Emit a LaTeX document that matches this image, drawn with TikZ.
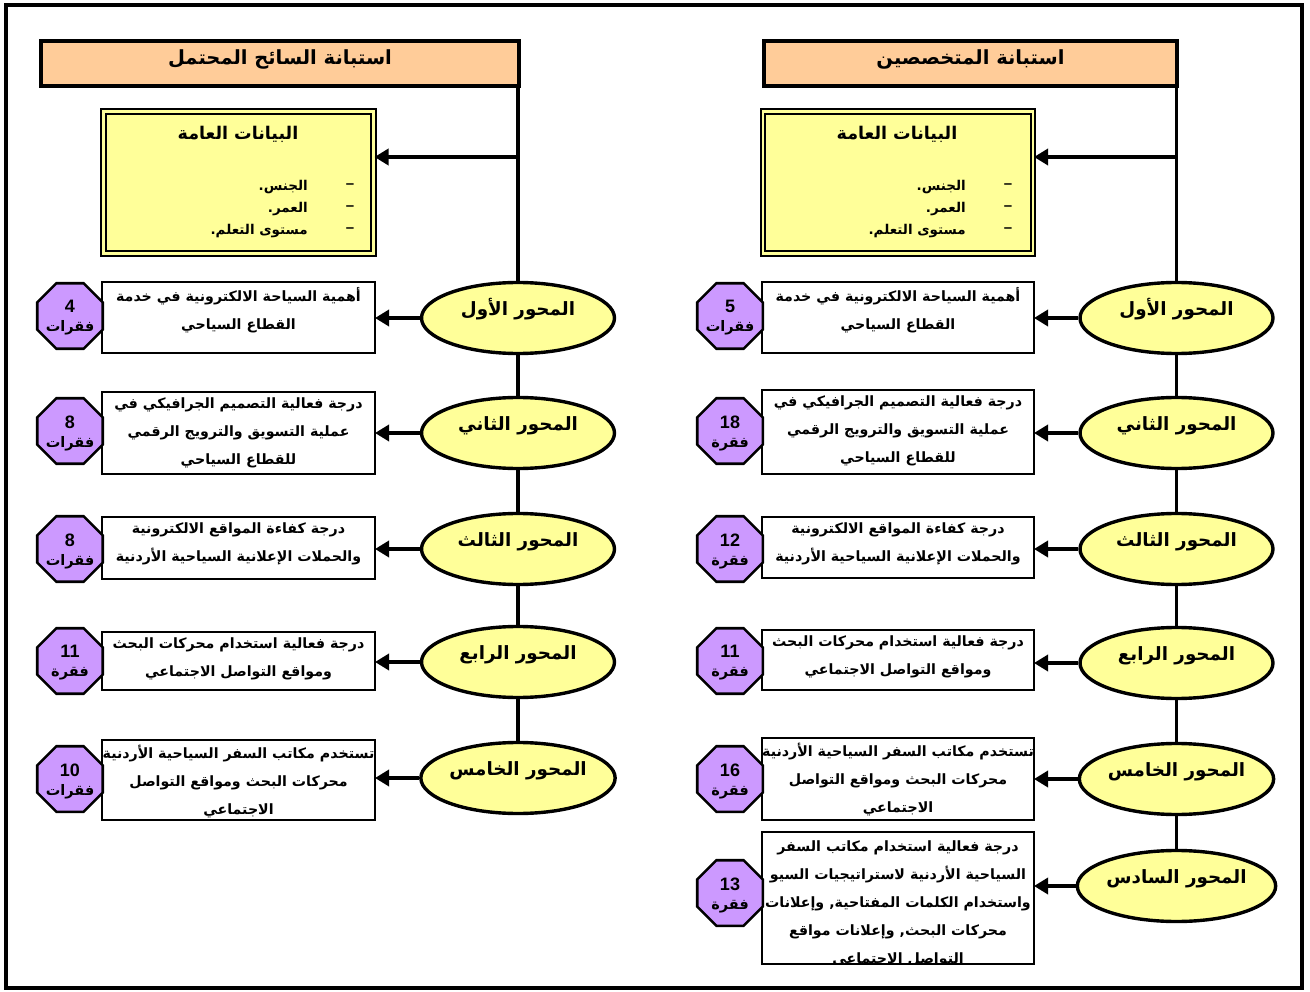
\documentclass[tikz,border=0pt]{standalone}
\usepackage{fontspec}
\setmainfont{Liberation Sans}
\newfontfamily\arabicfont[Script=Arabic]{DejaVu Sans}
\TeXXeTstate=1
\usetikzlibrary{shapes.geometric,arrows.meta,calc}
\newcommand{\ar}[1]{\beginR #1\endR}
\definecolor{peach}{HTML}{FFCC99}
\definecolor{lemon}{HTML}{FFFF99}
\definecolor{lilac}{HTML}{CC99FF}
\begin{document}
\begin{tikzpicture}[x=1pt,y=-1pt,
  frame/.style={draw, line width=3.6pt},
  titlebox/.style={draw, line width=4pt, fill=peach, inner sep=0pt, minimum height=44.5pt},
  titletext/.style={font=\arabicfont\bfseries\fontsize{19.5}{22}\selectfont, inner sep=0pt},
  genbox/.style={draw, line width=2pt, double=lemon, double distance=2.6pt, fill=lemon, inner sep=0pt, minimum width=270pt, minimum height=142pt},
  genhead/.style={font=\arabicfont\bfseries\fontsize{17.5}{20}\selectfont, inner sep=0pt},
  genitem/.style={font=\arabicfont\bfseries\fontsize{13.5}{16}\selectfont, inner sep=0pt, anchor=east},
  gendash/.style={font=\bfseries\fontsize{15}{16}\selectfont, inner sep=0pt},
  axis/.style={ellipse, draw, line width=3.4pt, fill=lemon, minimum width=193pt, minimum height=71pt, inner sep=0pt, text height=13pt, text depth=18pt, font=\arabicfont\bfseries\fontsize{18.3}{20}\selectfont},
  desc/.style={draw, line width=1.6pt, fill=white, inner sep=0pt, outer sep=0pt, minimum width=273pt},
  desctext/.style={align=center, anchor=north, inner sep=0pt, font=\arabicfont\bfseries\fontsize{14.2}{28}\selectfont, execute at begin node={\rule{0pt}{13pt}}},
  oct/.style={regular polygon, regular polygon sides=8, draw, line width=2.6pt, fill=lilac, minimum size=71pt, inner sep=0pt},
  octtext/.style={align=center, inner sep=0pt, font=\bfseries\fontsize{18}{19}\selectfont},
  conn/.style={line width=3.4pt},
  arr/.style={line width=3.4pt, -{Triangle[length=14pt,width=16pt]}}
]
\useasboundingbox (0,0) rectangle (1310,992);
\draw[frame] (6,5) rectangle (1302,988);

% ================= LEFT =================
\node[titlebox, minimum width=478pt] (tL) at (280,63.5) {};
\node[titletext] (tLt) at (280,59) {\ar{استبانة السائح المحتمل}};

\node[genbox] (gL) at (238.5,182.5) {};
\node[genhead] (gLh) at (238,134) {\ar{البيانات العامة}};
\node[genitem] (gL1) at (308,187) {\ar{الجنس.}};
\node[genitem] (gL2) at (308,209) {\ar{العمر.}};
\node[genitem] (gL3) at (308,231) {\ar{مستوى التعلم.}};
\node[gendash] (gLd1) at (350,186) {--};
\node[gendash] (gLd2) at (350,208) {--};
\node[gendash] (gLd3) at (350,230) {--};

\node[axis] (eL1) at (518,318) {\ar{المحور الأول}};
\node[axis] (eL2) at (518,433) {\ar{المحور الثاني}};
\node[axis] (eL3) at (518,549) {\ar{المحور الثالث}};
\node[axis] (eL4) at (518,662) {\ar{المحور الرابع}};
\node[axis] (eL5) at (518,778) {\ar{المحور الخامس}};

\node[desc, minimum height=71pt] (bL1) at (238.5,317.5) {};
\node[desc, minimum height=82pt] (bL2) at (238.5,433) {};
\node[desc, minimum height=62pt] (bL3) at (238.5,548) {};
\node[desc, minimum height=58pt] (bL4) at (238.5,661) {};
\node[desc, minimum height=80pt] (bL5) at (238.5,780) {};
\node[desctext] (bL1t) at ($(bL1.north)+(0,5)$) {\ar{أهمية السياحة الالكترونية في خدمة}\\\ar{القطاع السياحي}};
\node[desctext] (bL2t) at ($(bL2.north)+(0,6)$) {\ar{درجة فعالية التصميم الجرافيكي في}\\\ar{عملية التسويق والترويج الرقمي}\\\ar{للقطاع السياحي}};
\node[desctext] (bL3t) at ($(bL3.north)+(0,6)$) {\ar{درجة كفاءة المواقع الالكترونية}\\\ar{والحملات الإعلانية السياحية الأردنية}};
\node[desctext] (bL4t) at ($(bL4.north)+(0,6)$) {\ar{درجة فعالية استخدام محركات البحث}\\\ar{ومواقع التواصل الاجتماعي}};
\node[desctext] (bL5t) at ($(bL5.north)+(0,5)$) {\ar{تستخدم مكاتب السفر السياحية الأردنية}\\\ar{محركات البحث ومواقع التواصل}\\\ar{الاجتماعي}};

\node[oct] (oL1) at (70,316) {};
\node[oct] (oL2) at (70,431) {};
\node[oct] (oL3) at (70,549) {};
\node[oct] (oL4) at (70,661) {};
\node[oct] (oL5) at (70,779) {};
\node[octtext] (oL1t) at ($(oL1)+(0,2)$) {4\\{\arabicfont\fontsize{14.5}{19}\selectfont\ar{فقرات}}};
\node[octtext] (oL2t) at ($(oL2)+(0,2)$) {8\\{\arabicfont\fontsize{14.5}{19}\selectfont\ar{فقرات}}};
\node[octtext] (oL3t) at ($(oL3)+(0,2)$) {8\\{\arabicfont\fontsize{14.5}{19}\selectfont\ar{فقرات}}};
\node[octtext] (oL4t) at ($(oL4)+(0,2)$) {11\\{\arabicfont\fontsize{14.5}{19}\selectfont\ar{فقرة}}};
\node[octtext] (oL5t) at ($(oL5)+(0,2)$) {10\\{\arabicfont\fontsize{14.5}{19}\selectfont\ar{فقرات}}};

\coordinate (jL) at (518,157);
\draw[conn] (tL.south -| eL1.north) -- (eL1.north);
\draw[conn] (eL1.south) -- (eL2.north);
\draw[conn] (eL2.south) -- (eL3.north);
\draw[conn] (eL3.south) -- (eL4.north);
\draw[conn] (eL4.south) -- (eL5.north);
\draw[arr] (jL) -- (jL -| gL.east);
\foreach \i in {1,...,5} {\draw[arr] (eL\i.west) -- (eL\i.west -| bL\i.east);}

% ================= RIGHT =================
\node[titlebox, minimum width=413pt] (tR) at (970.5,63.5) {};
\node[titletext] (tRt) at (970.5,59) {\ar{استبانة المتخصصين}};

\node[genbox] (gR) at (898,182.5) {};
\node[genhead] (gRh) at (897,134) {\ar{البيانات العامة}};
\node[genitem] (gR1) at (966,187) {\ar{الجنس.}};
\node[genitem] (gR2) at (966,209) {\ar{العمر.}};
\node[genitem] (gR3) at (966,231) {\ar{مستوى التعلم.}};
\node[gendash] (gRd1) at (1008,186) {--};
\node[gendash] (gRd2) at (1008,208) {--};
\node[gendash] (gRd3) at (1008,230) {--};

\node[axis] (eR1) at (1176.5,318) {\ar{المحور الأول}};
\node[axis] (eR2) at (1176.5,433) {\ar{المحور الثاني}};
\node[axis] (eR3) at (1176.5,549) {\ar{المحور الثالث}};
\node[axis] (eR4) at (1176.5,663) {\ar{المحور الرابع}};
\node[axis] (eR5) at (1176.5,779) {\ar{المحور الخامس}};
\node[axis] (eR6) at (1176.5,886) {\ar{المحور السادس}};

\node[desc, minimum height=71pt, minimum width=272pt] (bR1) at (898,317.5) {};
\node[desc, minimum height=84pt, minimum width=272pt] (bR2) at (898,432) {};
\node[desc, minimum height=61pt, minimum width=272pt] (bR3) at (898,547.5) {};
\node[desc, minimum height=60pt, minimum width=272pt] (bR4) at (898,660) {};
\node[desc, minimum height=82pt, minimum width=272pt] (bR5) at (898,779) {};
\node[desc, minimum height=132pt, minimum width=272pt] (bR6) at (898,898) {};
\node[desctext] (bR1t) at ($(bR1.north)+(0,5)$) {\ar{أهمية السياحة الالكترونية في خدمة}\\\ar{القطاع السياحي}};
\node[desctext] (bR2t) at ($(bR2.north)+(0,6)$) {\ar{درجة فعالية التصميم الجرافيكي في}\\\ar{عملية التسويق والترويج الرقمي}\\\ar{للقطاع السياحي}};
\node[desctext] (bR3t) at ($(bR3.north)+(0,6)$) {\ar{درجة كفاءة المواقع الالكترونية}\\\ar{والحملات الإعلانية السياحية الأردنية}};
\node[desctext] (bR4t) at ($(bR4.north)+(0,6)$) {\ar{درجة فعالية استخدام محركات البحث}\\\ar{ومواقع التواصل الاجتماعي}};
\node[desctext] (bR5t) at ($(bR5.north)+(0,5)$) {\ar{تستخدم مكاتب السفر السياحية الأردنية}\\\ar{محركات البحث ومواقع التواصل}\\\ar{الاجتماعي}};
\begin{scope}
\clip (bR6.south west) rectangle (bR6.north east);
\node[desctext] (bR6t) at ($(bR6.north)+(0,9)$) {\ar{درجة فعالية استخدام مكاتب السفر}\\\ar{السياحية الأردنية لاستراتيجيات السيو}\\\ar{واستخدام الكلمات المفتاحية, وإعلانات}\\\ar{محركات البحث, وإعلانات مواقع}\\\ar{التواصل الاجتماعي}};
\end{scope}
\draw[line width=1.6pt] (bR6.south west) rectangle (bR6.north east);

\node[oct] (oR1) at (730,316) {};
\node[oct] (oR2) at (730,431) {};
\node[oct] (oR3) at (730,549) {};
\node[oct] (oR4) at (730,661) {};
\node[oct] (oR5) at (730,779) {};
\node[oct] (oR6) at (730,893) {};
\node[octtext] (oR1t) at ($(oR1)+(0,2)$) {5\\{\arabicfont\fontsize{14.5}{19}\selectfont\ar{فقرات}}};
\node[octtext] (oR2t) at ($(oR2)+(0,2)$) {18\\{\arabicfont\fontsize{14.5}{19}\selectfont\ar{فقرة}}};
\node[octtext] (oR3t) at ($(oR3)+(0,2)$) {12\\{\arabicfont\fontsize{14.5}{19}\selectfont\ar{فقرة}}};
\node[octtext] (oR4t) at ($(oR4)+(0,2)$) {11\\{\arabicfont\fontsize{14.5}{19}\selectfont\ar{فقرة}}};
\node[octtext] (oR5t) at ($(oR5)+(0,2)$) {16\\{\arabicfont\fontsize{14.5}{19}\selectfont\ar{فقرة}}};
\node[octtext] (oR6t) at ($(oR6)+(0,2)$) {13\\{\arabicfont\fontsize{14.5}{19}\selectfont\ar{فقرة}}};

\coordinate (jR) at (1176.5,157);
\draw[conn] (tR.south -| eR1.north) -- (eR1.north);
\draw[conn] (eR1.south) -- (eR2.north);
\draw[conn] (eR2.south) -- (eR3.north);
\draw[conn] (eR3.south) -- (eR4.north);
\draw[conn] (eR4.south) -- (eR5.north);
\draw[conn] (eR5.south) -- (eR6.north);
\draw[arr] (jR) -- (jR -| gR.east);
\foreach \i in {1,...,6} {\draw[arr] (eR\i.west) -- (eR\i.west -| bR\i.east);}
\end{tikzpicture}
\end{document}
